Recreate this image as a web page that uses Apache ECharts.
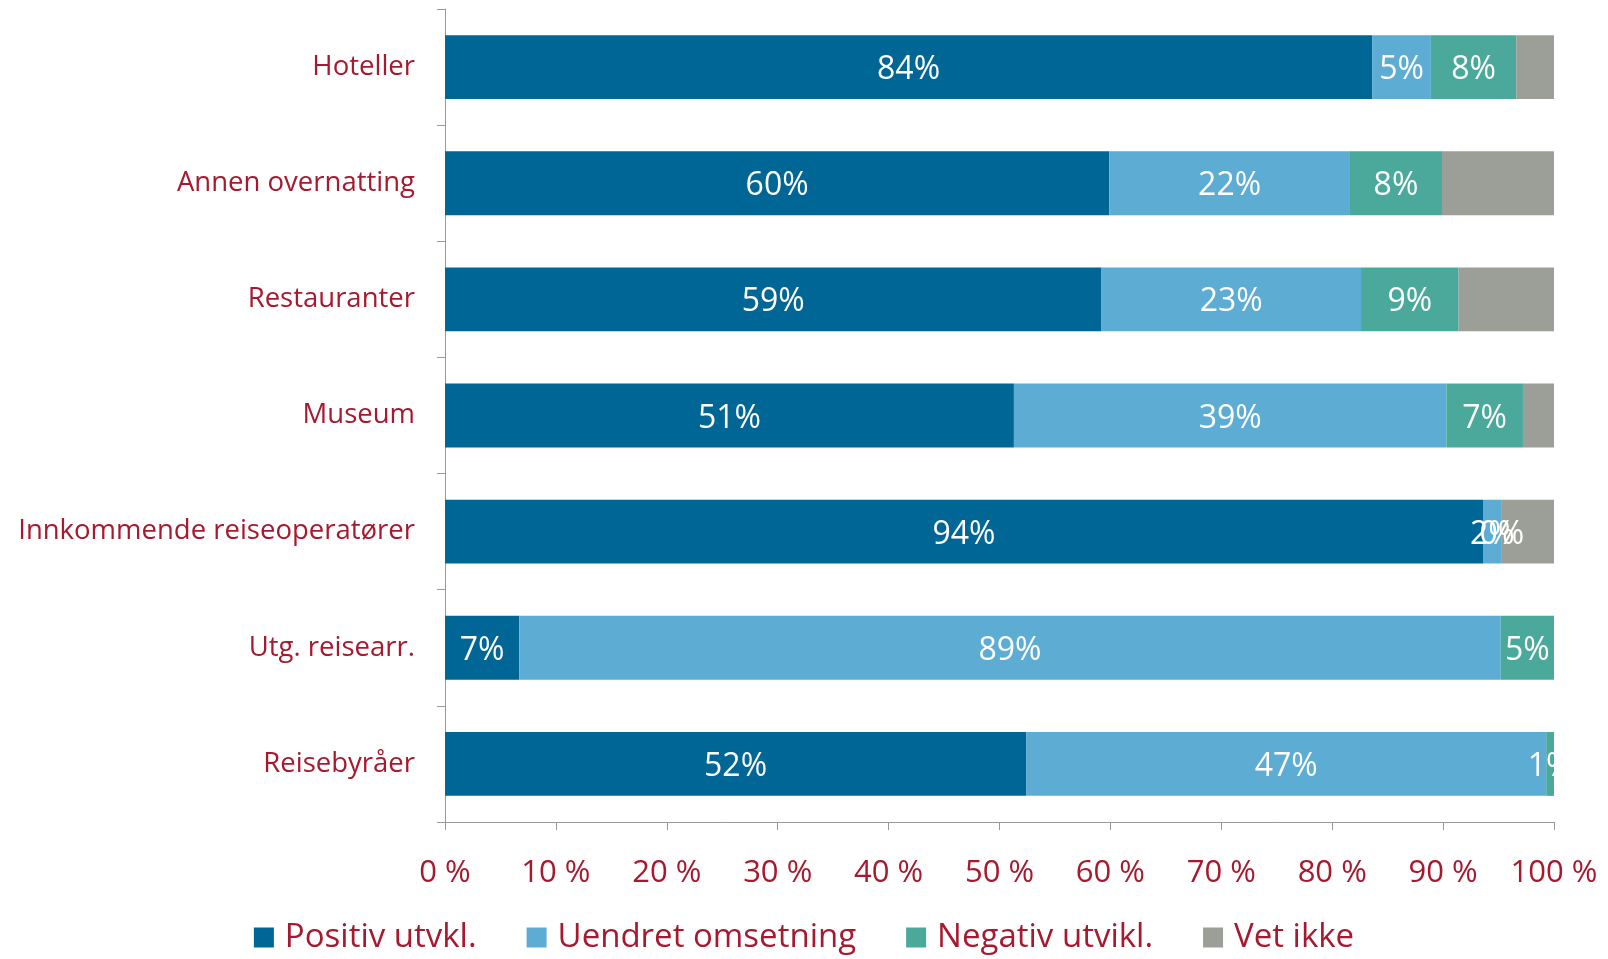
<!DOCTYPE html>
<html>
<head>
<meta charset="utf-8">
<script src="https://cdn.jsdelivr.net/npm/echarts@6/dist/echarts.min.js"></script>
<style>
  html, body { margin: 0; padding: 0; background: #fff; }
  #chart { width: 1608px; height: 959px; }
</style>
</head>
<body>
<div id="chart"></div>
<script>
// categories top to bottom
const categories = ['Hoteller', 'Annen overnatting', 'Restauranter', 'Museum', 'Innkommende reiseoperatører', 'Utg. reisearr.', 'Reisebyråer']
const seriesNames = ['Positiv utvkl.', 'Uendret omsetning', 'Negativ utvikl.', 'Vet ikke']
const positiv = [83.6, 59.9, 59.2, 51.3, 93.6, 6.7, 52.4]
const uendret = [5.3, 21.7, 23.4, 39.0, 1.7, 88.5, 46.9]
const negativ = [7.7, 8.3, 8.8, 6.9, 0, 4.8, 0.7]
const vetIkke = [3.4, 10.1, 8.6, 2.8, 4.7, 0, 0]
const xTicks = [0, 10, 20, 30, 40, 50, 60, 70, 80, 90, 100]

const colors = ['#006695', '#5DACD3', '#4AA99B', '#9C9F97']
const textRed = '#A6192E'
const font = 'Open Sans'

const chart = echarts.init(document.getElementById('chart'))

function barSeries(name, values, color, withLabel) {
  return {
    type: 'bar',
    name,
    stack: 'total',
    barWidth: '55%',
    itemStyle: { color },
    data: values,
    label: {
      show: withLabel,
      position: 'inside',
      color: '#fff',
      fontFamily: font,
      fontSize: 32,
      offset: [0, 3],
      formatter: (p) => Math.round(p.value) + '%',
    },
  }
}

chart.setOption({
  animation: false,
  textStyle: { fontFamily: font },
  grid: { left: 445, right: 54, top: 9, bottom: 137 },
  legend: {
    bottom: 0,
    left: 'center',
    itemWidth: 20,
    itemHeight: 20,
    itemGap: 50,
    icon: 'rect',
    textStyle: { color: textRed, fontSize: 33, fontFamily: font, padding: [0, 0, 0, 6] },
    data: seriesNames,
  },
  xAxis: {
    type: 'value',
    min: 0,
    max: 100,
    interval: 10,
    axisLine: { show: true, lineStyle: { color: '#999' } },
    axisTick: { show: true, length: 8, lineStyle: { color: '#999' } },
    splitLine: { show: false },
    axisLabel: {
      color: textRed,
      fontSize: 31,
      margin: 36,
      fontFamily: font,
      formatter: (v) => (xTicks.includes(v) ? v + ' %' : ''),
    },
  },
  yAxis: {
    type: 'category',
    data: categories,
    inverse: true,
    axisLine: { show: true, lineStyle: { color: '#999' } },
    axisTick: { show: true, length: 8, lineStyle: { color: '#999' } },
    axisLabel: { color: textRed, fontSize: 27.5, margin: 30, fontFamily: font, padding: [6, 0, 0, 0] },
  },
  series: [
    barSeries(seriesNames[0], positiv, colors[0], true),
    barSeries(seriesNames[1], uendret, colors[1], true),
    barSeries(seriesNames[2], negativ, colors[2], true),
    barSeries(seriesNames[3], vetIkke, colors[3], false),
  ],
})
</script>
</body>
</html>
